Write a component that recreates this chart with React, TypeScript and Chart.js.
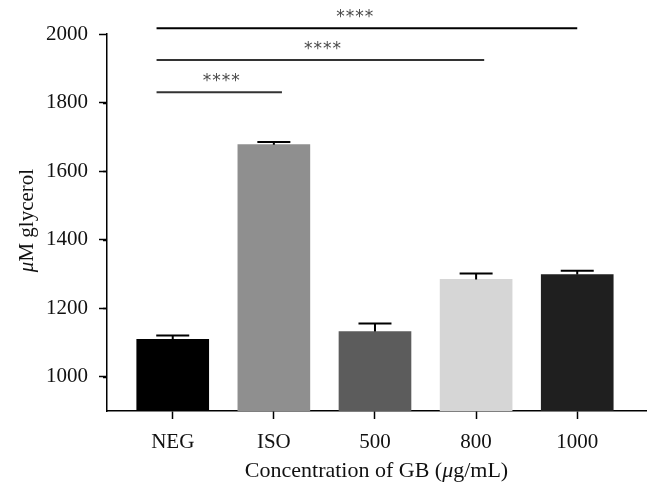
import React, { useEffect, useRef } from "react";
import { Chart, registerables } from "chart.js";

Chart.register(...registerables);

// ---- data ----
const categories = ["NEG", "ISO", "500", "800", "1000"];
const glycerolMeans = [1109, 1677, 1132, 1284, 1298];
const glycerolErrors = [11, 8, 23, 17, 11];
const barColors = ["#000000", "#8f8f8f", "#5c5c5c", "#d6d6d6", "#1f1f1f"];

// significance brackets: start / end positions on category axis, height in µM, label position
const sigFrom = [-0.16, -0.16, -0.16];
const sigTo = [1.08, 3.08, 4.0];
const sigLevel = [1830, 1924, 2017];
const sigLabelX = [0.48, 1.48, 1.8];
const sigLabel = ["****", "****", "****"];
const sigColors = ["#333333", "#333333", "#000000"];

const yMin = 900;
const yMax = 2000;
const yStep = 100;

const SERIF = "'Liberation Serif', 'Times New Roman', serif";

function drawMixed(ctx: CanvasRenderingContext2D, parts: { t: string; italic: boolean }[], size: number, cx: number, y: number) {
  const fonts = parts.map((p) => `${p.italic ? "italic " : ""}${size}px ${SERIF}`);
  let total = 0;
  const widths = parts.map((p, i) => {
    ctx.font = fonts[i];
    const w = ctx.measureText(p.t).width;
    total += w;
    return w;
  });
  let x = cx - total / 2;
  ctx.textAlign = "left";
  ctx.textBaseline = "alphabetic";
  parts.forEach((p, i) => {
    ctx.font = fonts[i];
    ctx.fillText(p.t, x, y);
    x += widths[i];
  });
}

const overlayPlugin = {
  id: "overlay",
  afterDatasetsDraw(chart: any) {
    const ctx: CanvasRenderingContext2D = chart.ctx;
    const ys = chart.scales.y;
    const meta = chart.getDatasetMeta(0);
    ctx.save();
    // error bars
    ctx.strokeStyle = "#000";
    ctx.lineWidth = 2;
    meta.data.forEach((bar: any, i: number) => {
      const yTop = ys.getPixelForValue(glycerolMeans[i] + glycerolErrors[i]);
      const yBase = ys.getPixelForValue(glycerolMeans[i]);
      ctx.beginPath();
      ctx.moveTo(bar.x, yBase);
      ctx.lineTo(bar.x, yTop);
      ctx.moveTo(bar.x - 16.5, yTop);
      ctx.lineTo(bar.x + 16.5, yTop);
      ctx.stroke();
    });
    ctx.restore();
  },
  afterDraw(chart: any) {
    const ctx: CanvasRenderingContext2D = chart.ctx;
    const xs = chart.scales.x;
    const ys = chart.scales.y;
    const area = chart.chartArea;
    ctx.save();
    // minor y ticks
    ctx.strokeStyle = "#000";
    ctx.lineWidth = 1.5;
    for (let v = yMin + yStep; v < yMax; v += 2 * yStep) {
      const py = Math.round(ys.getPixelForValue(v)) + 0.5;
      ctx.beginPath();
      ctx.moveTo(area.left - 4, py);
      ctx.lineTo(area.left, py);
      ctx.stroke();
    }
    // significance lines
    sigLevel.forEach((lvl, i) => {
      const py = ys.getPixelForValue(lvl);
      ctx.strokeStyle = sigColors[i];
      ctx.lineWidth = 2;
      ctx.beginPath();
      ctx.moveTo(xs.getPixelForValue(sigFrom[i]), py);
      ctx.lineTo(xs.getPixelForValue(sigTo[i]), py);
      ctx.stroke();
      // stars
      ctx.fillStyle = "#4a4a4a";
      ctx.font = `17px 'DejaVu Sans', sans-serif`;
      ctx.textAlign = "center";
      ctx.textBaseline = "alphabetic";
      const m = ctx.measureText("*");
      const cy = py - 14.5;
      const baseY = cy + (m.actualBoundingBoxAscent - m.actualBoundingBoxDescent) / 2;
      const cx = xs.getPixelForValue(sigLabelX[i]);
      const chars = sigLabel[i].split("");
      const sp = 9.5;
      chars.forEach((c, k) => {
        ctx.fillText(c, cx + (k - (chars.length - 1) / 2) * sp, baseY);
      });
    });
    // axis titles
    ctx.fillStyle = "#111";
    drawMixed(
      ctx,
      [
        { t: "Concentration of GB (", italic: false },
        { t: "\u03bc", italic: true },
        { t: "g/mL)", italic: false },
      ],
      22,
      (area.left + area.right) / 2,
      area.bottom + 66
    );
    ctx.save();
    ctx.translate(area.left - 74, (area.top + area.bottom) / 2 - 2);
    ctx.rotate(-Math.PI / 2);
    drawMixed(
      ctx,
      [
        { t: "\u03bc", italic: true },
        { t: "M glycerol", italic: false },
      ],
      21,
      0,
      0
    );
    ctx.restore();
    ctx.restore();
  },
};

export default function App() {
  const ref = useRef<HTMLCanvasElement>(null);
  useEffect(() => {
    document.body.style.margin = "0";
    const canvas = ref.current!;
    const chart = new Chart(canvas, {
      type: "bar",
      data: {
        datasets: [
          {
            data: glycerolMeans.map((v, i) => ({ x: i, y: v })),
            backgroundColor: barColors,
            borderWidth: 0,
            barThickness: 72,
          },
        ],
      },
      options: {
        animation: false,
        responsive: false,
        devicePixelRatio: 1,
        layout: { padding: { top: 34, right: 14, left: 0, bottom: 0 } },
        plugins: { legend: { display: false }, tooltip: { enabled: false }, title: { display: false } },
        scales: {
          x: {
            type: "linear",
            offset: false,
            min: -0.65,
            max: 4.68,
            afterBuildTicks: (scale: any) => {
              scale.ticks = categories.map((_, i) => ({ value: i }));
            },
            afterFit: (scale: any) => {
              scale.height = 85;
            },
            ticks: {
              callback: (v: any) => categories[Number(v)] ?? "",
              color: "#111",
              font: { family: SERIF, size: 21 },
              padding: 11,
              maxRotation: 0,
              autoSkip: false,
            },
            grid: { offset: false, drawOnChartArea: false, drawTicks: true, tickLength: 8, tickColor: "#000", tickWidth: 1.5 },
            border: { display: true, color: "#000", width: 1.5 },
          },
          y: {
            type: "linear",
            min: yMin,
            max: yMax,
            afterFit: (scale: any) => {
              scale.width = 107;
            },
            ticks: {
              stepSize: yStep,
              callback: (v: any) => (Number(v) % 200 === 0 ? String(v) : ""),
              color: "#111",
              font: { family: SERIF, size: 21 },
              padding: 11,
            },
            grid: {
              drawOnChartArea: false,
              drawTicks: true,
              tickLength: 8,
              tickWidth: 1.5,
              tickColor: (c: any) => (c.tick && c.tick.value % 200 === 0 ? "#000" : "rgba(0,0,0,0)"),
            },
            border: { display: true, color: "#000", width: 1.5 },
          },
        },
      },
      plugins: [overlayPlugin],
    });
    return () => chart.destroy();
  }, []);
  return (
    <div style={{ position: "fixed", left: 0, top: 0, width: 660, height: 496, background: "#fff" }}>
      <canvas ref={ref} width={660} height={496} />
    </div>
  );
}
